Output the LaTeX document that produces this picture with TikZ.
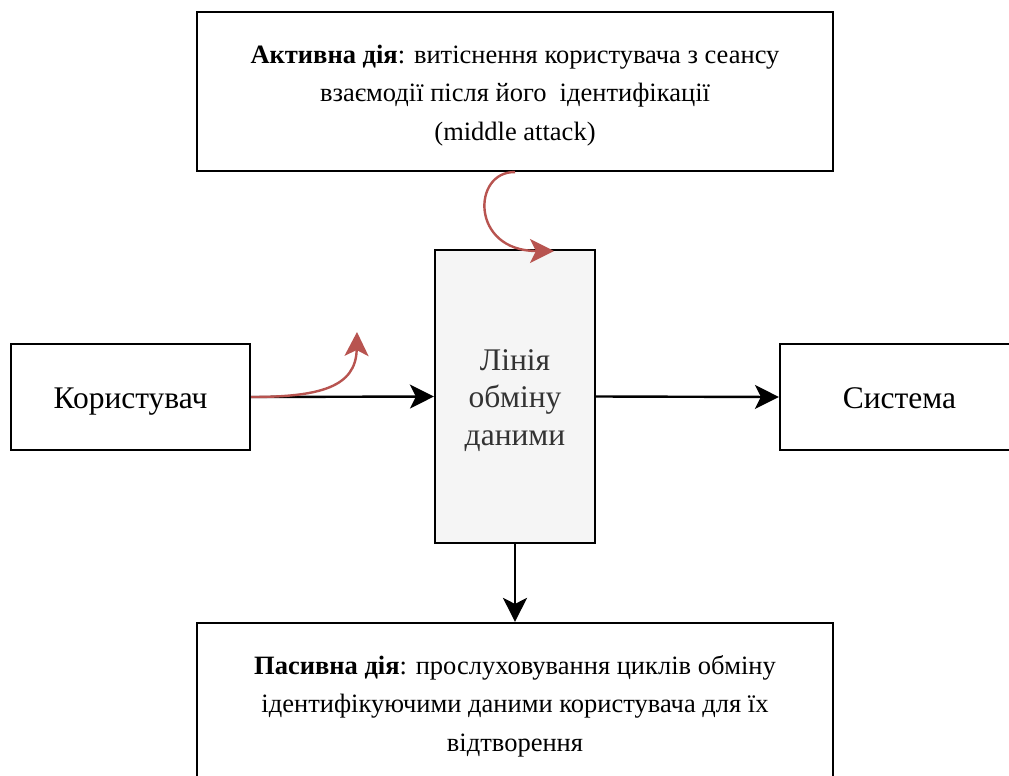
\documentclass[tikz,border=0pt]{standalone}
\usepackage{fontspec}
\setmainfont{Liberation Serif}
\usetikzlibrary{arrows.meta}
\definecolor{attackred}{HTML}{B85450}
\definecolor{chanfill}{HTML}{F5F5F5}
\definecolor{chantext}{HTML}{333333}
% invisible strut of a given height and depth, so every text line has the same box
\newcommand{\linebox}[2]{\rule[-#2]{0pt}{\dimexpr#1+#2\relax}}
\newcommand{\nstrut}{\linebox{29.4pt}{8.9pt}}
\newcommand{\bstrut}{\linebox{29.75pt}{6.75pt}}
\tikzset{
  box/.style={draw=black, line width=2.2pt, fill=white, rectangle, inner sep=0pt, align=center},
  bigtext/.style={font=\fontsize{31.5}{36.5}\selectfont},
  notetext/.style={font=\fontsize{26.5}{38.3}\selectfont},
  tip/.style={-{Stealth[length=24pt, width=24pt, inset=6pt]}},
  flow/.style={line width=2.4pt, draw=black, tip},
  attack/.style={line width=2.4pt, draw=attackred, tip},
}
\begin{document}
\begin{tikzpicture}[x=1pt, y=-1pt]
  \useasboundingbox (0,0) rectangle (1009,776);
  \clip (0,0) rectangle (1009,776);
  \fill[white] (0,0) rectangle (1009,776);

  % boxes
  \node[box, notetext, minimum width=636pt, minimum height=159pt] (active) at (515,91.5)
    {\nstrut\textbf{Активна дія}: витіснення користувача з сеансу\\\nstrut взаємодії після його~ ідентифікації\\\nstrut(middle attack)};
  \node[box, bigtext, fill=chanfill, text=chantext, minimum width=160pt, minimum height=293pt] (channel) at (515,396.5)
    {\bstrut Лінія\\\bstrut обміну\\\bstrut даними};
  \node[box, bigtext, minimum width=239pt, minimum height=106pt] (user) at (130.5,397) {\bstrut Користувач};
  \node[box, bigtext, minimum width=239pt, minimum height=106pt] (system) at (899.5,397) {\bstrut Система};
  \node[box, notetext, minimum width=636pt, minimum height=159pt] (passive) at (515,702.5)
    {\nstrut\textbf{Пасивна дія}: прослуховування циклів обміну\\\nstrut ідентифікуючими даними користувача для їх\\\nstrut відтворення};

  % data flow
  \draw[flow] (user.east) -- (channel.west);
  \draw[flow] (channel.east) -- (system.west);
  \draw[flow] (channel.south) -- (passive.north);

  % attacker actions
  \coordinate (divert) at (357,332);
  \coordinate (inject) at (554,251);
  \draw[attack] (user.east) .. controls (320,397) and (356,387) .. (divert);
  \draw[attack] (active.south) .. controls (472,171) and (470,251) .. (inject);
\end{tikzpicture}
\end{document}
